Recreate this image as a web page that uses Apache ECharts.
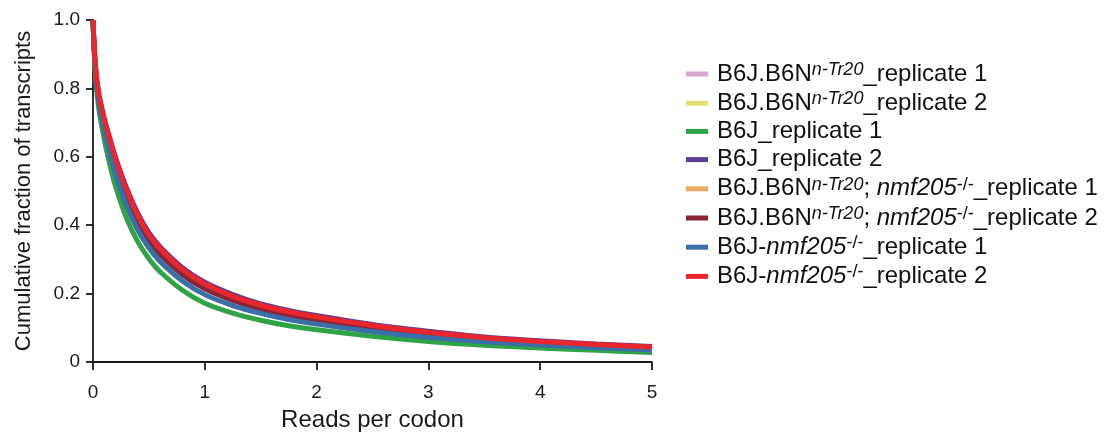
<!DOCTYPE html>
<html>
<head>
<meta charset="utf-8">
<title>Cumulative fraction of transcripts</title>
<script src="https://cdn.jsdelivr.net/npm/echarts@6/dist/echarts.min.js"></script>
<style>
  html, body { margin: 0; padding: 0; background: #ffffff; }
  #chart { width: 1112px; height: 438px; }
</style>
</head>
<body>
<div id="chart"></div>
<script>
// Reads per codon (x) sampled along each cumulative curve
const readsPerCodon = [0, 0.02, 0.05, 0.1, 0.15, 0.2, 0.3, 0.4, 0.5, 0.6, 0.8, 1.0, 1.25, 1.5, 1.75, 2.0, 2.5, 3.0, 3.5, 4.0, 4.5, 5.0];

// Cumulative fraction of transcripts per sample
const b6jB6nRep1       = [1.0, 0.869, 0.782, 0.704, 0.643, 0.588, 0.496, 0.423, 0.367, 0.326, 0.266, 0.224, 0.189, 0.163, 0.144, 0.129, 0.105, 0.085, 0.070, 0.059, 0.050, 0.043];
const b6jB6nRep2       = [1.0, 0.868, 0.780, 0.701, 0.640, 0.584, 0.492, 0.419, 0.364, 0.323, 0.263, 0.221, 0.186, 0.161, 0.142, 0.127, 0.103, 0.083, 0.068, 0.058, 0.049, 0.042];
const b6jRep1          = [1.0, 0.850, 0.745, 0.652, 0.578, 0.515, 0.420, 0.352, 0.302, 0.264, 0.210, 0.172, 0.143, 0.122, 0.106, 0.094, 0.075, 0.060, 0.049, 0.041, 0.034, 0.028];
const b6jRep2          = [1.0, 0.873, 0.790, 0.714, 0.655, 0.600, 0.509, 0.435, 0.378, 0.337, 0.276, 0.233, 0.197, 0.170, 0.151, 0.136, 0.110, 0.090, 0.073, 0.062, 0.053, 0.045];
const b6jB6nNmf205Rep1 = [1.0, 0.866, 0.777, 0.697, 0.634, 0.577, 0.486, 0.413, 0.358, 0.318, 0.258, 0.217, 0.182, 0.157, 0.139, 0.124, 0.101, 0.081, 0.067, 0.056, 0.048, 0.041];
const b6jB6nNmf205Rep2 = [1.0, 0.865, 0.775, 0.694, 0.631, 0.574, 0.482, 0.409, 0.355, 0.314, 0.255, 0.214, 0.180, 0.155, 0.137, 0.123, 0.099, 0.080, 0.066, 0.055, 0.047, 0.040];
const b6jNmf205Rep1    = [1.0, 0.859, 0.763, 0.677, 0.610, 0.550, 0.457, 0.386, 0.334, 0.294, 0.237, 0.197, 0.165, 0.142, 0.124, 0.111, 0.089, 0.072, 0.059, 0.050, 0.042, 0.035];
const b6jNmf205Rep2    = [1.0, 0.870, 0.785, 0.708, 0.648, 0.593, 0.502, 0.428, 0.372, 0.331, 0.270, 0.228, 0.192, 0.166, 0.147, 0.132, 0.107, 0.087, 0.071, 0.060, 0.051, 0.044];

// Axis ticks
const xTicks = [0, 1, 2, 3, 4, 5];
const yTicks = [0, 0.2, 0.4, 0.6, 0.8, 1.0];

// Sample names (plain) and their rich-text legend labels
const sampleNames = [
  'B6J.B6N n-Tr20_replicate 1',
  'B6J.B6N n-Tr20_replicate 2',
  'B6J_replicate 1',
  'B6J_replicate 2',
  'B6J.B6N n-Tr20; nmf205 -/-_replicate 1',
  'B6J.B6N n-Tr20; nmf205 -/-_replicate 2',
  'B6J-nmf205 -/-_replicate 1',
  'B6J-nmf205 -/-_replicate 2'
];
const sampleLabels = [
  '{t|B6J.B6N}{sup|n-Tr20}{t|_replicate 1}',
  '{t|B6J.B6N}{sup|n-Tr20}{t|_replicate 2}',
  '{t|B6J_replicate 1}',
  '{t|B6J_replicate 2}',
  '{t|B6J.B6N}{sup|n-Tr20}{t|; }{it|nmf205}{sup2|-/-}{t|_replicate 1}',
  '{t|B6J.B6N}{sup|n-Tr20}{t|; }{it|nmf205}{sup2|-/-}{t|_replicate 2}',
  '{t|B6J-}{it|nmf205}{sup2|-/-}{t|_replicate 1}',
  '{t|B6J-}{it|nmf205}{sup2|-/-}{t|_replicate 2}'
];
const sampleValues = [b6jB6nRep1, b6jB6nRep2, b6jRep1, b6jRep2, b6jB6nNmf205Rep1, b6jB6nNmf205Rep2, b6jNmf205Rep1, b6jNmf205Rep2];
const sampleColors = ['#d9a6d2', '#e2e070', '#2ea447', '#5e3f95', '#eba862', '#8c2433', '#3a6ea6', '#e8262c'];

const FONT = '"Liberation Sans", Arial, Helvetica, sans-serif';

const chart = echarts.init(document.getElementById('chart'), null, { renderer: 'canvas' });

const series = sampleNames.map((name, i) => ({
  name: name,
  type: 'line',
  data: readsPerCodon.map((x, j) => [x, sampleValues[i][j]]),
  smooth: 0.35,
  showSymbol: false,
  symbol: 'none',
  lineStyle: { width: 5, color: sampleColors[i] },
  itemStyle: { color: sampleColors[i] },
  z: 2 + i
}));

const labelByName = {};
sampleNames.forEach((n, i) => { labelByName[n] = sampleLabels[i]; });

chart.setOption({
  backgroundColor: '#ffffff',
  animation: false,
  grid: { left: 93, right: 460, top: 20, bottom: 76 },
  xAxis: {
    type: 'value',
    min: xTicks[0],
    max: xTicks[xTicks.length - 1],
    interval: 1,
    name: 'Reads per codon',
    nameLocation: 'middle',
    nameGap: 46,
    nameTextStyle: { fontFamily: FONT, fontSize: 24, color: '#1a1a1a' },
    axisLine: { show: true, lineStyle: { color: '#1a1a1a', width: 1.8 } },
    axisTick: { show: true, inside: false, length: 8, lineStyle: { color: '#1a1a1a', width: 1.8 } },
    axisLabel: { margin: 21, fontFamily: FONT, fontSize: 19, color: '#1a1a1a' },
    splitLine: { show: false }
  },
  yAxis: {
    type: 'value',
    min: yTicks[0],
    max: yTicks[yTicks.length - 1],
    interval: 0.2,
    name: 'Cumulative fraction of transcripts',
    nameLocation: 'middle',
    nameGap: 58,
    nameTextStyle: { fontFamily: FONT, fontSize: 22, color: '#1a1a1a' },
    axisLine: { show: true, lineStyle: { color: '#1a1a1a', width: 1.8 } },
    axisTick: { show: true, inside: false, length: 7, lineStyle: { color: '#1a1a1a', width: 1.8 } },
    axisLabel: {
      margin: 13,
      fontFamily: FONT,
      fontSize: 19,
      color: '#1a1a1a',
      formatter: v => (v === 0 ? '0' : v.toFixed(1))
    },
    splitLine: { show: false }
  },
  legend: {
    orient: 'vertical',
    left: 681,
    top: 56,
    icon: 'rect',
    itemWidth: 22,
    itemHeight: 5,
    itemGap: 4.2,
    data: sampleNames,
    formatter: name => labelByName[name],
    textStyle: {
      fontFamily: FONT,
      color: '#111111',
      padding: [0, 0, 0, 4],
      rich: {
        t:    { fontFamily: FONT, fontSize: 24, color: '#111111', lineHeight: 26 },
        it:   { fontFamily: FONT, fontSize: 24, fontStyle: 'italic', color: '#111111', lineHeight: 26 },
        sup:  { fontFamily: FONT, fontSize: 18, fontStyle: 'italic', color: '#111111', lineHeight: 16, verticalAlign: 'top' },
        sup2: { fontFamily: FONT, fontSize: 18, color: '#111111', lineHeight: 16, verticalAlign: 'top' }
      }
    }
  },
  series: series
});
</script>
</body>
</html>
